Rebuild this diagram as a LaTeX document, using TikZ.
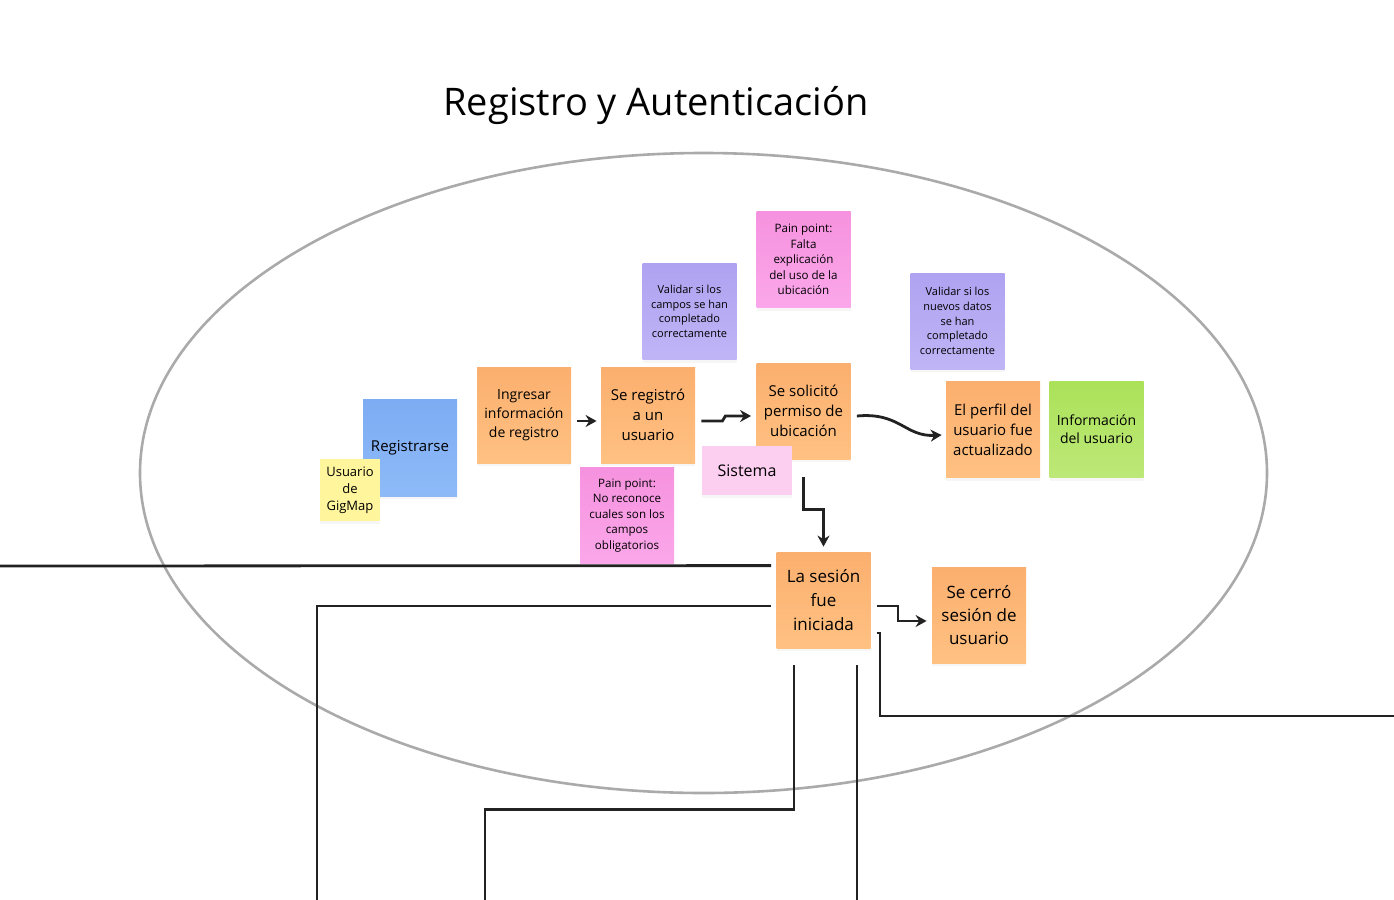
\documentclass[tikz,border=0pt]{standalone}
\usepackage{fontspec}
\setmainfont{Open Sans}
\usetikzlibrary{arrows.meta,calc,shadows}
\definecolor{naranjaA}{HTML}{FBAF6E}
\definecolor{naranjaB}{HTML}{FFC182}
\definecolor{azulA}{HTML}{7DACF4}
\definecolor{azulB}{HTML}{8DBAF7}
\definecolor{amarillo}{HTML}{FEF59C}
\definecolor{moradoA}{HTML}{AFA2F1}
\definecolor{moradoB}{HTML}{BFB5F6}
\definecolor{rosaA}{HTML}{F692DF}
\definecolor{rosaB}{HTML}{FBA7EA}
\definecolor{rosaclaro}{HTML}{FCCEF0}
\definecolor{verdeA}{HTML}{ABE259}
\definecolor{verdeB}{HTML}{BDE878}
\definecolor{linea}{HTML}{222222}
\definecolor{elipse}{HTML}{AAAAAA}
\begin{document}
\begin{tikzpicture}[x=0.5pt,y=-0.5pt,
    nota/.style={minimum width=47pt,minimum height=48pt,inner sep=0pt,align=center,
      drop shadow={opacity=0.07,shadow xshift=0pt,shadow yshift=-1.5pt}},
    tarea/.style={nota,top color=naranjaA,bottom color=naranjaB,font=\fontsize{7.5}{10}\selectfont},
    chica/.style={nota,font=\fontsize{5.5}{7.3}\selectfont},
    conn/.style={draw=linea,line width=1.4pt,-{Stealth[length=5.5pt,width=6pt]}},
    libre/.style={draw=linea,line width=1.4pt}]
  \useasboundingbox (0,0) rectangle (1394,900);

  % marco
  \draw[elipse,line width=1.3pt] (703.5,473) ellipse [x radius=281.75pt,y radius=160pt];
  \node (titulo) at (656,106) {\fontsize{19}{23}\selectfont Registro y Autenticación};

  % notas
  \node[nota,top color=azulA,bottom color=azulB,minimum height=48.5pt,
        font=\fontsize{7.5}{10}\selectfont] (reg) at (410,447.5) {Registrarse};
  \node[nota,fill=amarillo,minimum width=30pt,minimum height=31pt,
        font=\fontsize{6.5}{8.5}\selectfont] (usr) at (350,490) {Usuario\\de\\GigMap};
  \node[tarea,font=\fontsize{7}{9.5}\selectfont] (ingr) at (524,415) {Ingresar\\información\\de registro};
  \node[tarea] (sereg) at (648,415) {Se registró\\a un\\usuario};
  \node[chica,top color=moradoA,bottom color=moradoB] (valid1) at (689.5,311.5)
        {Validar si los\\campos se han\\completado\\correctamente};
  \node[chica,top color=rosaA,bottom color=rosaB,font=\fontsize{5.8}{7.8}\selectfont] (pain1) at (803.5,259.5)
        {Pain point:\\Falta\\explicación\\del uso de la\\ubicación};
  \node[tarea] (solic) at (803.5,411) {Se solicitó\\permiso de\\ubicación};
  \node[nota,fill=rosaclaro,minimum width=45pt,minimum height=24.5pt,
        font=\fontsize{8}{10}\selectfont] (sist) at (747,470.5) {Sistema};
  \node[chica,top color=rosaA,bottom color=rosaB,font=\fontsize{5.8}{7.8}\selectfont] (pain2) at (627,515.5)
        {Pain point:\\No reconoce\\cuales son los\\campos\\obligatorios};
  \node[chica,top color=moradoA,bottom color=moradoB] (valid2) at (957.5,321)
        {Validar si los\\nuevos datos\\se han\\completado\\correctamente};
  \node[tarea] (perfil) at (993,429.5) {El perfil del\\usuario fue\\actualizado};
  \node[nota,top color=verdeA,bottom color=verdeB,font=\fontsize{7}{9}\selectfont] (info) at (1096.5,429.5)
        {Información\\del usuario};
  \node[tarea,font=\fontsize{8.5}{12}\selectfont] (sesion) at (823.5,600) {La sesión\\fue\\iniciada};
  \node[tarea,font=\fontsize{8.5}{11.5}\selectfont] (cerro) at (979,615) {Se cerró\\sesión de\\usuario};

  % conectores
  \draw[conn] ($(ingr.east)+(6,6)$) -- ($(sereg.west)+(-4,6)$);
  \draw[conn] ($(sereg.east)+(6,6)$) -- ++(21,0) -- ++(3,-5) -- ($(solic.west)+(-5,5)$);
  \draw[conn] ($(solic.east)+(6,5)$) .. controls (900,412) and (905,437) .. ($(perfil.west)+(-4,5.5)$);
  \draw[conn] ($(solic.south)+(0,18)$) -- ++(0,32) -| ($(sesion.north)+(0,-5)$);
  \draw[conn] ($(sesion.east)+(6,6)$) -- ++(21,0) |- ($(cerro.west)+(-5,6)$);

  % lineas sueltas
  \coordinate (bordeI) at (0,566);
  \coordinate (bordeD) at (1394,716);
  \draw[libre] ($(sesion.north west)+(-5,14)$) -- (bordeI);
  \draw[libre] ($(sesion.west)+(-5,6)$) -| (317,900);
  \draw[libre] ($(sesion.south)+(-29.5,17)$) -- ++(0,144) -| (485,900);
  \draw[libre] ($(sesion.south)+(33.5,17)$) -- ++(0,235);
  \draw[libre] ($(sesion.east)+(6,33)$) -- ++(3,0) |- (bordeD);
\end{tikzpicture}
\end{document}
